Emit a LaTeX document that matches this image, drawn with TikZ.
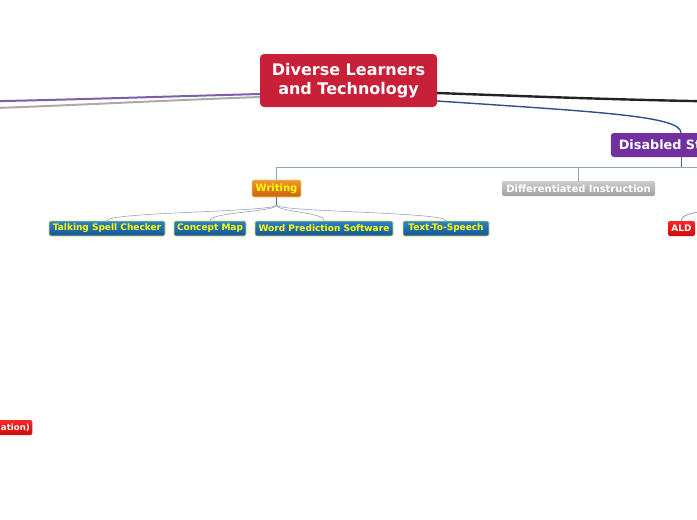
\documentclass[tikz,border=0pt]{standalone}
\usepackage{fontspec}
\setmainfont{DejaVu Sans}
\definecolor{crim}{RGB}{200,32,56}
\definecolor{purp}{RGB}{112,48,160}
\definecolor{purpline}{RGB}{125,95,168}
\definecolor{grayline}{RGB}{170,170,170}
\definecolor{blkline}{RGB}{35,35,35}
\definecolor{blueline}{RGB}{45,80,138}
\definecolor{treeline}{RGB}{143,164,190}
\definecolor{treedark}{RGB}{80,110,150}
\definecolor{orgtop}{RGB}{240,150,50}
\definecolor{orgbot}{RGB}{205,95,15}
\definecolor{bluetop}{RGB}{45,130,200}
\definecolor{bluebot}{RGB}{20,85,150}
\definecolor{ybord}{RGB}{225,220,90}
\definecolor{ytext}{RGB}{255,255,0}
\definecolor{graytop}{RGB}{205,205,205}
\definecolor{graybot}{RGB}{160,160,160}
\definecolor{redtop}{RGB}{245,40,40}
\definecolor{redbot}{RGB}{205,10,10}
\tikzset{
  central/.style={fill=crim, rounded corners=4pt, text=white, font=\fontsize{16}{19}\selectfont\bfseries, align=center, minimum width=177pt, minimum height=53pt, inner sep=0pt},
  mainbox/.style={fill=purp, rounded corners=3pt, text=white, font=\fontsize{12.8}{15}\selectfont\bfseries, minimum height=24pt, inner sep=0pt},
  orgbox/.style={top color=orgtop, bottom color=orgbot, draw=ybord, line width=0.6pt, rounded corners=2pt, text=ytext, font=\fontsize{10}{12}\selectfont\bfseries, minimum height=17pt, inner sep=0pt},
  graybox/.style={top color=graytop, bottom color=graybot, rounded corners=2pt, text=white, font=\fontsize{10}{12}\selectfont\bfseries, minimum height=15pt, inner sep=0pt},
  leafbox/.style={top color=bluetop, bottom color=bluebot, draw=ybord, line width=0.6pt, rounded corners=2pt, text=ytext, font=\fontsize{9}{11}\selectfont\bfseries, minimum height=15pt, inner sep=0pt},
  redbox/.style={top color=redtop, bottom color=redbot, rounded corners=2pt, text=white, font=\fontsize{9}{11}\selectfont\bfseries, minimum height=15pt, inner ysep=0pt},
  tree/.style={draw=treeline, line width=0.8pt},
}
\begin{document}
\begin{tikzpicture}[x=1pt,y=-1pt]
\useasboundingbox (0,0) rectangle (697,520);
\clip (0,0) rectangle (697,520);
% off-canvas ends
\coordinate (pl) at (-20,101.5);
\coordinate (gl) at (-20,108.5);
\coordinate (br) at (720,101.5);
\coordinate (hr) at (720,167);
\coordinate (aldp) at (720,210);
% nodes
\node[central] (c) at (348.5,80.5) {Diverse Learners\\ and Technology};
\node[mainbox, minimum width=138pt] (dis) at (681,145) {\hspace*{8pt}Disabled Students\hfill};
\node[orgbox, minimum width=49pt] (wr) at (276.5,188.5) {Writing};
\node[graybox, minimum width=153pt] (di) at (578.5,188.5) {Differentiated Instruction};
\node[leafbox, minimum width=116pt] (tsc) at (107,228.5) {Talking Spell Checker};
\node[leafbox, minimum width=72pt] (cm) at (210,228.5) {Concept Map};
\node[leafbox, minimum width=138pt] (wps) at (324,228.5) {Word Prediction Software};
\node[leafbox, minimum width=86pt] (tts) at (446,228.5) {Text-To-Speech};
\node[redbox, minimum width=27pt, inner xsep=0pt] (ald) at (681.5,228.5) {ALD};
\node[redbox, anchor=east, inner xsep=2.5pt, font=\fontsize{8.6}{11}\selectfont\bfseries] (at) at (32.5,427.5) {\hspace*{4pt}ation)};
% main connectors
\draw[purpline, line width=2pt] ([yshift=-13.5pt]c.west) .. controls (150,97) and (60,100) .. (pl);
\draw[grayline, line width=2pt] ([yshift=-16.5pt]c.west) .. controls (150,101) and (60,106) .. (gl);
\draw[blkline, line width=2.4pt] ([yshift=-12.5pt]c.east) .. controls (520,96) and (620,100) .. (br);
\draw[blueline, line width=1.4pt] ([yshift=-20.5pt]c.east) .. controls (600,112) and (681,116) .. (dis.north);
% tree connectors
\draw[treedark, line width=0.9pt] (dis.south) -- (681,167);
\draw[tree] (wr.north) |- (hr);
\draw[tree] (di.north) -- (578.5,167);
\coordinate (wj) at (276.5,205);
\draw[treedark, line width=1pt] (wr.south) -- (wj);
\foreach \n in {tsc,cm,wps,tts}{
  \draw[tree, line width=0.6pt] (wj) .. controls (276.5,212) and (\n.north |- 0,212) .. (\n.north);
}
\draw[tree, line width=0.9pt] (ald.north) .. controls (681.5,215) and (690,212) .. (aldp);
\end{tikzpicture}
\end{document}
